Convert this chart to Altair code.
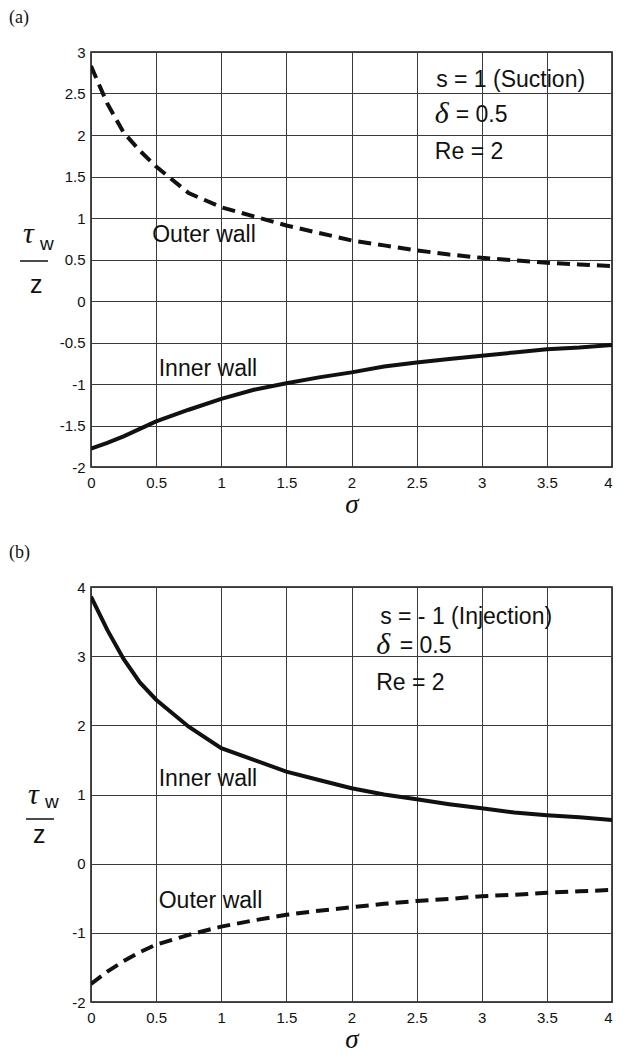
import altair as alt
import pandas as pd

# ---------------- data ----------------
sigma = [0, 0.125, 0.25, 0.375, 0.5, 0.75, 1, 1.25, 1.5, 1.75, 2,
         2.25, 2.5, 2.75, 3, 3.25, 3.5, 3.75, 4]

# panel (a): suction, s = 1
a_outer = [2.83, 2.38, 2.03, 1.81, 1.62, 1.30, 1.13, 1.02, 0.91, 0.82, 0.73,
           0.67, 0.61, 0.56, 0.52, 0.49, 0.46, 0.44, 0.42]
a_inner = [-1.78, -1.71, -1.63, -1.54, -1.45, -1.31, -1.18, -1.07, -0.99, -0.92, -0.86,
           -0.79, -0.74, -0.70, -0.66, -0.62, -0.58, -0.56, -0.53]

# panel (b): injection, s = -1
b_inner = [3.86, 3.38, 2.96, 2.62, 2.37, 1.98, 1.67, 1.50, 1.33, 1.21, 1.09,
           1.00, 0.93, 0.86, 0.80, 0.74, 0.70, 0.67, 0.63]
b_outer = [-1.74, -1.56, -1.41, -1.28, -1.17, -1.03, -0.91, -0.82, -0.74, -0.68, -0.63,
           -0.58, -0.54, -0.51, -0.47, -0.45, -0.42, -0.40, -0.38]

x_ticks = [0, 0.5, 1, 1.5, 2, 2.5, 3, 3.5, 4]
a_yticks = [-2, -1.5, -1, -0.5, 0, 0.5, 1, 1.5, 2, 2.5, 3]
b_yticks = [-2, -1, 0, 1, 2, 3, 4]

a_notes = {"param": "s = 1 (Suction)", "re": "Re = 2",
           "labels": [("Outer wall", 0.47, 0.79), ("Inner wall", 0.52, -0.82)],
           "param_xy": (2.65, 2.66), "delta_xy": (2.64, 2.24), "eq_x": 2.80,
           "re_xy": (2.64, 1.80)}
b_notes = {"param": "s = - 1 (Injection)", "re": "Re = 2",
           "labels": [("Inner wall", 0.52, 1.23), ("Outer wall", 0.52, -0.54)],
           "param_xy": (2.22, 3.57), "delta_xy": (2.19, 3.14), "eq_x": 2.37,
           "re_xy": (2.19, 2.61)}

SANS = "Liberation Sans"
SERIF = "Liberation Serif"
W = 521
H = 415


def panel(tag, inner, outer, ydom, yticks, notes, ylab):
    df_in = pd.DataFrame({"sigma": sigma, "tau": inner})
    df_out = pd.DataFrame({"sigma": sigma, "tau": outer})
    xenc = alt.X("sigma:Q", scale=alt.Scale(domain=[0, 4], nice=False, zero=False),
                 axis=alt.Axis(values=x_ticks, title="σ",
                               labelExpr="toString(datum.value)",
                               labelPadding=8,
                               labelAlign={"expr": "datum.value == 4 ? 'right' : 'center'"},
                               titleFont=SERIF, titleFontStyle="italic",
                               titleFontWeight="normal", titleFontSize=27,
                               titlePadding=1))
    yenc = alt.Y("tau:Q", scale=alt.Scale(domain=ydom, nice=False, zero=False),
                 axis=alt.Axis(values=yticks, title=None, labelPadding=6,
                               labelExpr="toString(datum.value)"))

    solid = alt.Chart(df_in).mark_line(color="#111", strokeWidth=4, clip=True).encode(x=xenc, y=yenc)
    dashed = alt.Chart(df_out).mark_line(color="#111", strokeWidth=4, clip=True,
                                         strokeDash=[13, 7]).encode(x="sigma:Q", y="tau:Q")

    lab_df = pd.DataFrame({
        "text": [t for t, _, _ in notes["labels"]] + [notes["param"], "= 0.5", notes["re"]],
        "sx": [x for _, x, _ in notes["labels"]] + [notes["param_xy"][0], notes["eq_x"], notes["re_xy"][0]],
        "sy": [y for _, _, y in notes["labels"]] + [notes["param_xy"][1], notes["delta_xy"][1], notes["re_xy"][1]],
    })
    labels = alt.Chart(lab_df).mark_text(align="left", baseline="middle", font=SANS,
                                         fontSize=23, color="#111").encode(
        x="sx:Q", y="sy:Q", text="text:N")

    delta_df = pd.DataFrame({"sx": [notes["delta_xy"][0]], "sy": [notes["delta_xy"][1]], "text": ["δ"]})
    delta = alt.Chart(delta_df).mark_text(align="left", baseline="middle", font=SERIF,
                                          fontStyle="italic", fontSize=30, color="#111",
                                          dy=-1).encode(
        x="sx:Q", y="sy:Q", text="text:N")

    one = pd.DataFrame({"k": [0]})
    tag_mark = alt.Chart(one).mark_text(align="left", baseline="middle", font=SERIF,
                                        fontSize=18, color="#111", text=tag).encode(
        x=alt.value(-82), y=alt.value(-34))
    tau = alt.Chart(one).mark_text(align="left", baseline="alphabetic", font=SERIF,
                                   fontStyle="italic", fontSize=30, color="#111",
                                   text="τ").encode(
        x=alt.value(ylab["tau"][0]), y=alt.value(ylab["tau"][1]))
    wsub = alt.Chart(one).mark_text(align="left", baseline="alphabetic", font=SANS,
                                    fontSize=19, color="#111", text="w").encode(
        x=alt.value(ylab["w"][0]), y=alt.value(ylab["w"][1]))
    bar = alt.Chart(one).mark_rule(color="#111", strokeWidth=1.5).encode(
        x=alt.value(ylab["bar"][0]), x2=alt.value(ylab["bar"][1]), y=alt.value(ylab["bar"][2]))
    zden = alt.Chart(one).mark_text(align="left", baseline="alphabetic", font=SANS,
                                    fontSize=25, color="#111", text="z").encode(
        x=alt.value(ylab["z"][0]), y=alt.value(ylab["z"][1]))

    return alt.layer(solid, dashed, labels, delta, tag_mark, tau, wsub, bar, zden).properties(
        width=W, height=H)


a_ylab = {"tau": (-68, 191), "w": (-51, 198), "bar": (-71, -43, 209), "z": (-61, 241)}
b_ylab = {"tau": (-63, 217), "w": (-46, 221), "bar": (-65, -37, 232), "z": (-58, 256)}

top = panel("(a)", a_inner, a_outer, [-2, 3], a_yticks, a_notes, a_ylab)
bottom = panel("(b)", b_inner, b_outer, [-2, 4], b_yticks, b_notes, b_ylab)

chart = alt.vconcat(top, bottom, spacing=25).properties(
    padding={"left": 0, "top": 0, "right": 0, "bottom": 0},
    background="white"
).configure_view(
    stroke="#111", strokeWidth=1.5
).configure_axis(
    grid=True, ticks=False, domain=False, labelOverlap=False,
    gridColor="#3a3a3a", gridWidth=1,
    labelFont=SANS, labelFontSize=15, labelColor="#111",
    titleColor="#111"
)

chart.save("out.html", embed_options={"renderer": "svg", "actions": False})
